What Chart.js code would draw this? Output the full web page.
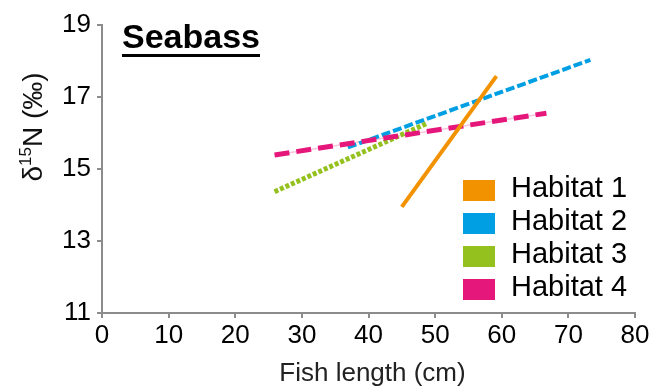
<!DOCTYPE html>
<html>
<head>
<meta charset="utf-8">
<script src="https://cdn.jsdelivr.net/npm/chart.js@4/dist/chart.umd.min.js"></script>
<style>
  html, body { margin: 0; padding: 0; background: #fff; }
  #wrap { width: 655px; height: 386px; position: relative; }
</style>
</head>
<body>
<div id="wrap"><canvas id="c" width="655" height="386"></canvas></div>
<script>
// ---- data ----
const seriesLabels = ["Habitat 1", "Habitat 2", "Habitat 3", "Habitat 4"];
const habitat1Length = [45.0, 59.2];
const habitat1N15    = [13.95, 17.58];
const habitat2Length = [36.9, 73.3];
const habitat2N15    = [15.60, 18.03];
const habitat3Length = [25.9, 48.8];
const habitat3N15    = [14.37, 16.27];
const habitat4Length = [25.9, 66.7];
const habitat4N15    = [15.39, 16.55];
const xTicks = [0, 10, 20, 30, 40, 50, 60, 70, 80];
const yTicks = [11, 13, 15, 17, 19];
const chartTitle = "Seabass";
const xTitle = "Fish length (cm)";

const colors = ["#F39200", "#009FE3", "#95C11F", "#E5177A"];
const FONT = "'Liberation Sans', Arial, sans-serif";

function pts(xs, ys) { return xs.map((x, i) => ({ x: x, y: ys[i] })); }

const datasets = [
  { label: seriesLabels[0], data: pts(habitat1Length, habitat1N15), borderColor: colors[0], borderWidth: 4, borderDash: [], order: 1 },
  { label: seriesLabels[1], data: pts(habitat2Length, habitat2N15), borderColor: colors[1], borderWidth: 4, borderDash: [9, 3], order: 3 },
  { label: seriesLabels[2], data: pts(habitat3Length, habitat3N15), borderColor: colors[2], borderWidth: 5, borderDash: [4, 2], order: 4 },
  { label: seriesLabels[3], data: pts(habitat4Length, habitat4N15), borderColor: colors[3], borderWidth: 5, borderDash: [15, 7], order: 2 },
  { label: "", data: pts(habitat4Length, habitat4N15), borderColor: "rgba(229,23,122,0.25)", borderWidth: 1.5, borderDash: [], order: 5 }
].map(d => Object.assign({ showLine: true, pointRadius: 0, pointHoverRadius: 0, fill: false, tension: 0, borderCapStyle: 'butt' }, d));

const decor = {
  id: 'decor',
  afterDraw(chart) {
    const ctx = chart.ctx;
    const area = chart.chartArea;
    ctx.save();
    // Title
    ctx.fillStyle = "#000";
    ctx.font = "bold 34px " + FONT;
    ctx.textBaseline = "alphabetic";
    ctx.textAlign = "left";
    const tx = 122, ty = 48;
    ctx.fillText(chartTitle, tx, ty);
    const tw = ctx.measureText(chartTitle).width;
    ctx.fillRect(tx, ty + 6, tw, 3);

    // Y title (rotated) with superscript
    ctx.save();
    ctx.translate(42, 127);
    ctx.rotate(-Math.PI / 2);
    const big = "28px " + FONT, small = "17px " + FONT;
    const parts = [["δ", big, 0], ["15", small, -11], ["N (‰)", big, 0]];
    let total = 0;
    parts.forEach(p => { ctx.font = p[1]; total += ctx.measureText(p[0]).width; });
    let x = -total / 2;
    ctx.fillStyle = "#111";
    parts.forEach(p => { ctx.font = p[1]; ctx.fillText(p[0], x, p[2]); x += ctx.measureText(p[0]).width; });
    ctx.restore();

    // X title
    ctx.font = "26px " + FONT;
    ctx.fillStyle = "#222";
    ctx.textAlign = "center";
    ctx.fillText(xTitle, (area.left + area.right) / 2 + 4, 381);

    // Legend
    ctx.textAlign = "left";
    ctx.font = "29px " + FONT;
    seriesLabels.forEach((lab, i) => {
      const cy = 190 + i * 33;
      ctx.fillStyle = colors[i];
      ctx.fillRect(463, cy - 10, 32, 21);
      ctx.fillStyle = "#000";
      ctx.fillText(lab, 511, cy + 6.5);
    });
    ctx.restore();
  }
};

new Chart(document.getElementById('c'), {
  type: 'scatter',
  data: { datasets: datasets },
  options: {
    responsive: false,
    animation: false,
    devicePixelRatio: 1,
    layout: { padding: { top: 25, right: 20, left: 0, bottom: 0 } },
    plugins: { legend: { display: false }, tooltip: { enabled: false }, title: { display: false } },
    scales: {
      x: {
        type: 'linear', min: 0, max: 80,
        afterBuildTicks(s) { s.ticks = xTicks.map(v => ({ value: v })); },
        afterFit(s) { s.height = 73; },
        grid: { display: true, drawOnChartArea: false, drawTicks: true, tickLength: 5, color: "#8c8c8c", lineWidth: 2 },
        border: { display: true, color: "#8c8c8c", width: 2 },
        ticks: { color: "#000", font: { family: FONT, size: 26 }, padding: 2, maxRotation: 0, autoSkip: false }
      },
      y: {
        type: 'linear', min: 11, max: 19,
        afterBuildTicks(s) { s.ticks = yTicks.map(v => ({ value: v })); },
        afterFit(s) { s.width = 102; },
        grid: { display: true, drawOnChartArea: false, drawTicks: true, tickLength: 5, color: "#8c8c8c", lineWidth: 2 },
        border: { display: true, color: "#8c8c8c", width: 2 },
        ticks: { color: "#000", font: { family: FONT, size: 26 }, padding: 6, autoSkip: false }
      }
    }
  },
  plugins: [decor]
});
</script>
</body>
</html>
